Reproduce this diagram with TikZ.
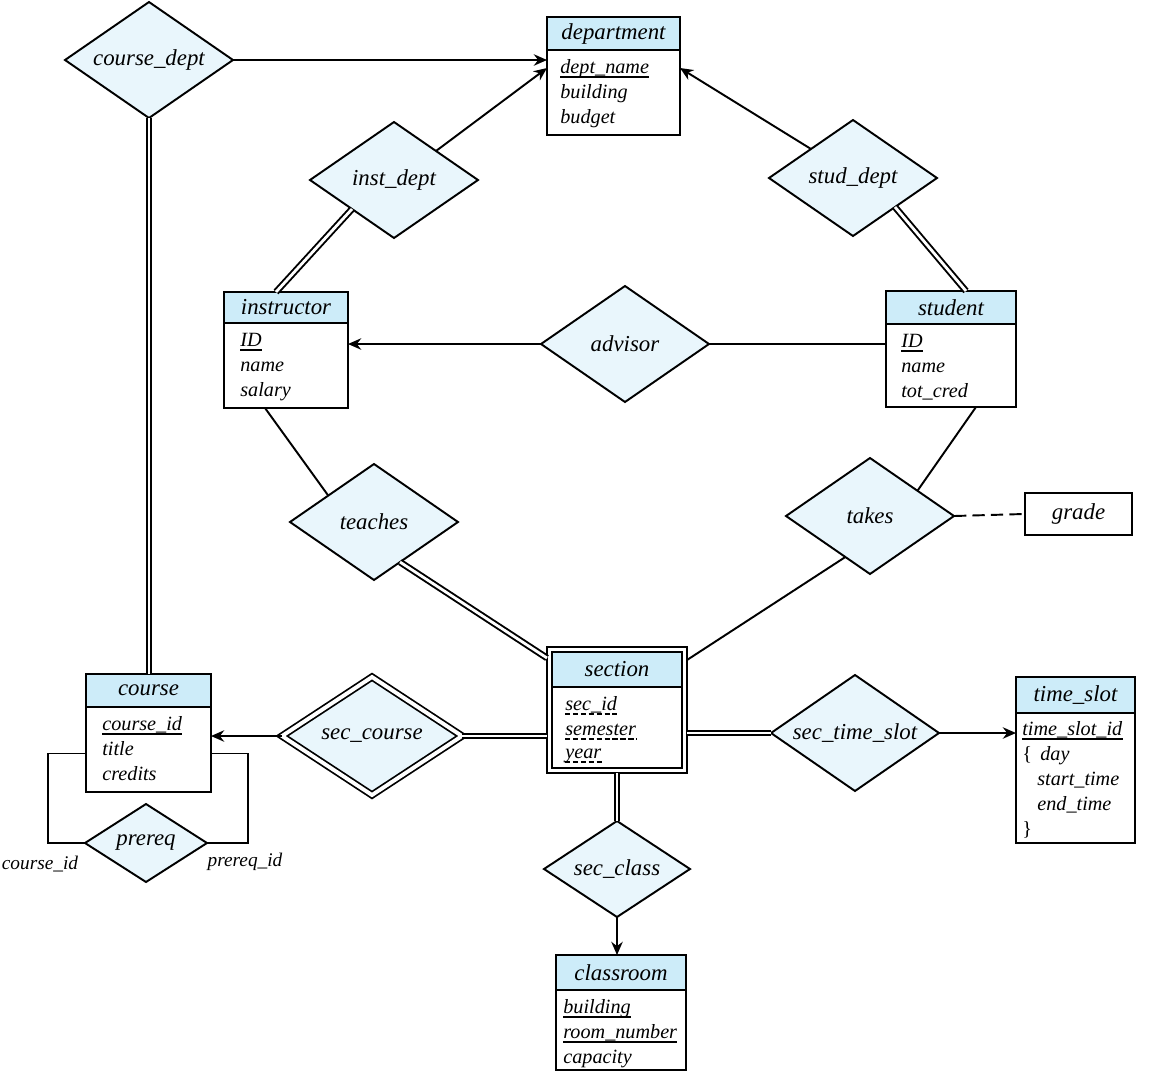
\documentclass[tikz,border=0pt]{standalone}
\usepackage{fontspec}
\setmainfont{Liberation Serif}
\usetikzlibrary{arrows.meta,shapes.geometric,calc,fit}
\definecolor{hdrblue}{RGB}{205,236,249}
\definecolor{diablue}{RGB}{233,246,252}
\tikzset{
 hdr/.style={draw, line width=1.1pt, fill=hdrblue, inner sep=0, outer sep=0, font=\fontsize{13}{15}\selectfont\itshape},
 bodybox/.style={draw, line width=1.1pt, fill=white, inner sep=0, outer sep=0},
 attr/.style={anchor=base west, inner sep=0, font=\fontsize{11.5}{13}\selectfont\itshape},
 rel/.style={diamond, draw, line width=1.1pt, fill=diablue, inner sep=0, outer sep=0, aspect=1.45, font=\fontsize{13}{15}\selectfont\itshape},
 conn/.style={line width=1.1pt},
 arr/.style={line width=1.1pt, -{Stealth[length=7.5pt,width=6.5pt]}},
 dbl/.style={double, double distance=1.6pt, line width=1.1pt},
 ul/.style={line width=1pt},
 dul/.style={line width=1pt, dash pattern=on 3pt off 1.5pt},
 lbl/.style={font=\fontsize{11}{13}\selectfont\itshape, inner sep=0},
}
\newcommand{\entbox}[7]{%
 \node[hdr, anchor=north, minimum width=#4*0.02cm, minimum height=#5*0.02cm] (#1) at (#2,#3) {#7};
 \node[bodybox, anchor=north, minimum width=#4*0.02cm, minimum height=#6*0.02cm] (#1b) at (#1.south) {};
}
\newcommand{\attrib}[4]{\node[attr] (#1) at (#2,#3) {#4};}
\newcommand{\ulin}[2]{\draw[#2] ($(#1.base west)+(0,4)$) -- ($(#1.base east)+(0,4)$);}
\begin{document}
\begin{tikzpicture}[x=0.02cm,y=-0.02cm]
\useasboundingbox (0,0) rectangle (1171,1073);

% entities
\entbox{dept}{613.5}{17}{133}{33}{85}{department}
\entbox{ins}{286}{292}{124}{31}{85}{instructor}
\entbox{stu}{951}{291}{130}{33}{83}{student}
\entbox{sec}{617}{652}{130}{35}{81}{section}
\entbox{crs}{148.5}{674}{125}{33}{85}{course}
\entbox{ts}{1075.5}{677}{119}{36}{130}{time\_slot}
\entbox{cls}{621}{955}{130}{35}{80}{classroom}
\node[draw, line width=1.1pt, inner sep=0.1cm, outer sep=0, fit=(sec)(secb)] (secout) {};

% attributes
\attrib{d1}{560}{73}{dept\_name}\ulin{d1}{ul}
\attrib{d2}{560}{98}{building}
\attrib{d3}{560}{123}{budget}
\attrib{i1}{240}{346}{ID}\ulin{i1}{ul}
\attrib{i2}{240}{371}{name}
\attrib{i3}{240}{396}{salary}
\attrib{s1}{901}{347}{ID}\ulin{s1}{ul}
\attrib{s2}{901}{372}{name}
\attrib{s3}{901}{397}{tot\_cred}
\attrib{e1}{565}{710}{sec\_id}\ulin{e1}{dul}
\attrib{e2}{565}{735}{semester}\ulin{e2}{dul}
\attrib{e3}{565}{758}{year}\ulin{e3}{dul}
\attrib{c1}{102}{730}{course\_id}\ulin{c1}{ul}
\attrib{c2}{102}{755}{title}
\attrib{c3}{102}{780}{credits}
\attrib{t1}{1022}{735}{time\_slot\_id}\ulin{t1}{ul}
\attrib{t2}{1022}{760}{\upshape\{}
\attrib{t3}{1040}{760}{day}
\attrib{t4}{1037}{785}{start\_time}
\attrib{t5}{1037}{810}{end\_time}
\attrib{t6}{1022}{835}{\upshape\}}
\attrib{r1}{563}{1013}{building}\ulin{r1}{ul}
\attrib{r2}{563}{1038}{room\_number}\ulin{r2}{ul}
\attrib{r3}{563}{1063}{capacity}

% relationships
\node[rel, minimum width=168*0.02cm, minimum height=116*0.02cm] (cd) at (149,60) {course\_dept};
\node[rel, minimum width=168*0.02cm, minimum height=116*0.02cm] (ind) at (394,180) {inst\_dept};
\node[rel, minimum width=168*0.02cm, minimum height=116*0.02cm] (sd) at (853,178) {stud\_dept};
\node[rel, minimum width=168*0.02cm, minimum height=116*0.02cm] (adv) at (625,344) {advisor};
\node[rel, minimum width=168*0.02cm, minimum height=116*0.02cm] (tea) at (374,522) {teaches};
\node[rel, minimum width=168*0.02cm, minimum height=116*0.02cm] (tak) at (870,516) {takes};
\node[rel, minimum width=168*0.02cm, minimum height=116*0.02cm] (sts) at (855,733) {sec\_time\_slot};
\node[rel, double, double distance=2.2pt, line width=1pt, minimum width=180*0.02cm, minimum height=118*0.02cm] (sc) at (372,736) {sec\_course};
\node[rel, minimum width=146*0.02cm, minimum height=96*0.02cm] (scl) at (617,869) {sec\_class};
\node[rel, minimum width=122*0.02cm, minimum height=78*0.02cm] (pr) at (146,843) {prereq};

\node[draw, line width=1.1pt, inner sep=0, minimum width=107*0.02cm, minimum height=42*0.02cm, font=\fontsize{13}{15}\selectfont\itshape] (gr) at (1078.5,514) {grade};

% connectors
\draw[arr] (cd.east) -- (cd.east -| deptb.west);
\draw[dbl] (cd.south) -- (cd.south |- crs.north);
\draw[arr] (ind.north east) -- ($(deptb.north west)+(0,18)$);
\draw[dbl] (ind.south west) -- ($(ins.north west)+(52,0)$);
\draw[arr] (sd.north west) -- ($(deptb.north east)+(0,18)$);
\draw[dbl] (sd.south east) -- ($(stu.north west)+(80,0)$);
\draw[arr] (adv.west) -- (adv.west -| insb.east);
\draw[conn] (adv.east) -- (adv.east -| stub.west);
\draw[conn] ($(insb.south west)+(41,0)$) -- (tea.150);
\draw[dbl] (tea.-57) -- ($(secout.north west)+(0,11)$);
\draw[conn] ($(stub.south west)+(90,0)$) -- (tak.28);
\draw[conn] (tak.-121) -- ($(secout.north east)+(0,13)$);
\draw[line width=1.1pt, dash pattern=on 7pt off 3.5pt] (tak.east) -- (gr.west);
\draw[dbl] (sc.east) -- (sc.east -| secout.west);
\draw[arr] (sc.west) -- (sc.west -| crsb.east);
\draw[dbl] (sts.west) -- (sts.west -| secout.east);
\draw[arr] (sts.east) -- (sts.east -| tsb.west);
\draw[dbl] (scl.north) -- (scl.north |- secout.south);
\draw[arr] (scl.south) -- (scl.south |- cls.north);
\draw[conn] ($(crsb.west)+(0,4)$) -- ++(-38,0) |- (pr.west);
\draw[conn] ($(crsb.east)+(0,4)$) -- ++(37,0) |- (pr.east);

\node[lbl] (l1) at (40,864) {course\_id};
\node[lbl] (l2) at (245,862) {prereq\_id};
\end{tikzpicture}
\end{document}
